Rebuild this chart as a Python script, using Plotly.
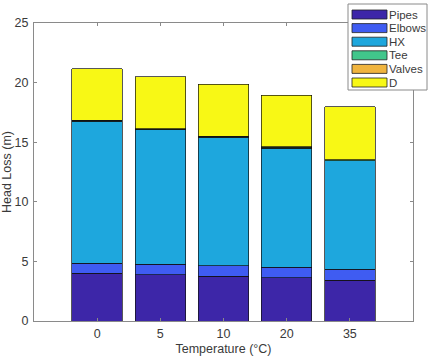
import plotly.graph_objects as go

temps = ["0", "5", "10", "20", "35"]
series_names = ["Pipes", "Elbows", "HX", "Tee", "Valves", "D"]
pipes = [4.00, 3.88, 3.75, 3.63, 3.44]
elbows = [0.86, 0.87, 0.89, 0.87, 0.89]
hx = [11.91, 11.29, 10.79, 10.01, 9.12]
tee = [0.06, 0.06, 0.06, 0.06, 0.06]
valves = [0.03, 0.03, 0.03, 0.03, 0.03]
d = [4.29, 4.37, 4.36, 4.34, 4.42]
series_values = [pipes, elbows, hx, tee, valves, d]
colors = ["#3D26A8", "#3F5CF2", "#1EA7DD", "#41C68B", "#F0B43E", "#F8F815"]

W, H = 429, 360
L, R, T, B = 34, 16, 23, 39
pw, ph = W - L - R, H - T - B

fig = go.Figure()
for name, vals, c in zip(series_names, series_values, colors):
    fig.add_trace(go.Bar(x=temps, y=vals, name=name, marker_color=c,
                         marker_line_color="#111111", marker_line_width=0.7,
                         showlegend=False))

font = dict(family="Liberation Sans, Arial, sans-serif", size=12.5, color="#3a3a3a")
legfont = dict(family="Liberation Sans, Arial, sans-serif", size=11.5, color="#3a3a3a")
axis_common = dict(showline=True, linecolor="#8a8a8a", linewidth=1, mirror="ticks",
                   ticks="inside", ticklen=3, tickcolor="#8a8a8a", showgrid=False,
                   zeroline=False, tickfont=font, automargin=False)
fig.update_layout(
    width=W, height=H, margin=dict(l=L, r=R, t=T, b=B, pad=0, autoexpand=False),
    paper_bgcolor="white", plot_bgcolor="white", barmode="stack", bargap=0.2,
    font=font,
    xaxis=dict(range=[-1, 5], ticklabelstandoff=1,
               title=dict(text="Temperature (°C)", font=font, standoff=4),
               **axis_common),
    yaxis=dict(range=[0, 25], tickvals=[0, 5, 10, 15, 20, 25], ticklabelstandoff=2,
               title=dict(text="Head Loss (m)", font=font, standoff=7), **axis_common),
)

def px(x):
    return (x - L) / pw

def py(y):
    return (H - B - y) / ph

# legend box
fig.add_shape(type="rect", xref="paper", yref="paper", x0=px(348), x1=px(427),
              y0=py(90), y1=py(4), line=dict(color="#8a8a8a", width=1),
              fillcolor="white", layer="above")
for i, (name, c) in enumerate(zip(series_names, colors)):
    cy = 14.5 + 13.6 * i
    fig.add_shape(type="rect", xref="paper", yref="paper", x0=px(352), x1=px(387),
                  y0=py(cy + 4.5), y1=py(cy - 4.5), line=dict(color="#222222", width=0.8),
                  fillcolor=c, layer="above")
    fig.add_annotation(xref="paper", yref="paper", x=px(389), y=py(cy), text=name,
                       showarrow=False, xanchor="left", yanchor="middle", font=legfont,
                       borderpad=0, xshift=-1)

fig.write_html("out.html")
